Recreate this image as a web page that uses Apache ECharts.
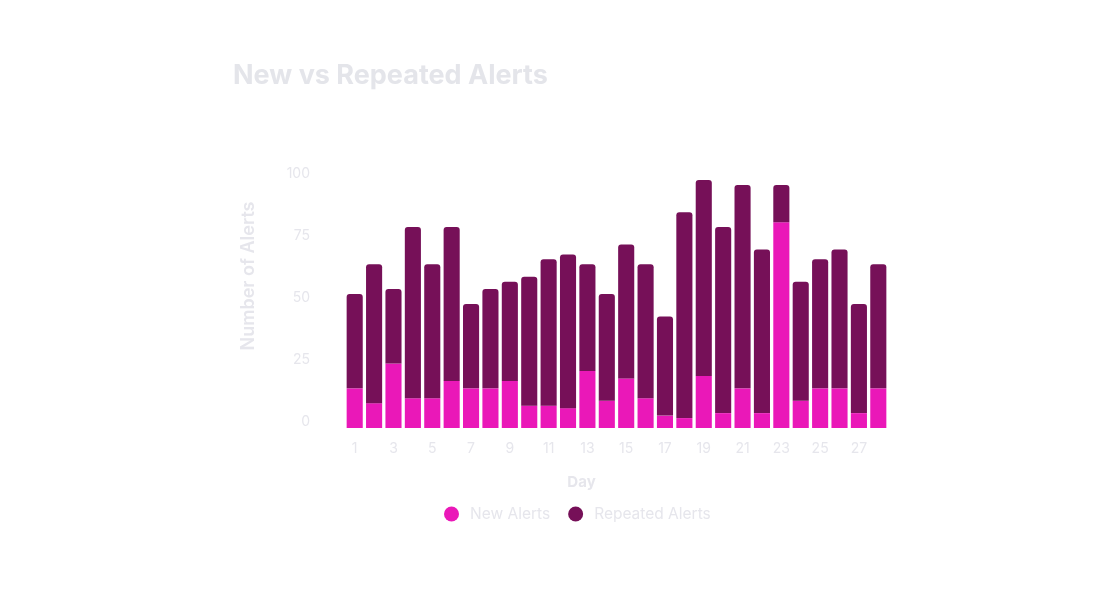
<!DOCTYPE html>
<html>
<head>
<meta charset="utf-8">
<script src="https://cdn.jsdelivr.net/npm/echarts@6/dist/echarts.min.js"></script>
<style>
  html, body { margin: 0; padding: 0; background: #fff; }
  #main { width: 1120px; height: 590px; }
</style>
</head>
<body>
<div id="main"></div>
<script>
// days 1..28
var days = [];
for (var d = 1; d <= 28; d++) days.push(String(d));

var newAlerts = [16, 10, 26, 12, 12, 19, 16, 16, 19, 9, 9, 8, 23, 11,
                 20, 12, 5, 4, 21, 6, 16, 6, 83, 11, 16, 16, 6, 16];
var repeatedAlerts = [38, 56, 30, 69, 54, 62, 34, 40, 40, 52, 59, 62, 43, 43,
                      54, 54, 40, 83, 79, 75, 82, 66, 15, 48, 52, 56, 44, 50];
var yTicks = [0, 25, 50, 75, 100];

var textColor = '#e6e6ec';
var font = 'Inter, "Noto Sans", sans-serif';

var myChart = echarts.init(document.getElementById('main'));
myChart.setOption({
  animation: false,
  textStyle: { fontFamily: font },
  title: {
    text: 'New vs Repeated Alerts',
    left: 228,
    top: 57,
    textStyle: { color: '#e4e5ea', fontSize: 27, fontWeight: 'bold', fontFamily: font }
  },
  color: ['#ea18b8', '#761058'],
  legend: {
    left: 439,
    top: 501,
    icon: 'circle',
    itemWidth: 15,
    itemHeight: 15,
    itemGap: 18,
    textStyle: { color: textColor, fontSize: 15.5, padding: [0, 0, 0, 6] },
    data: ['New Alerts', 'Repeated Alerts']
  },
  grid: {
    left: 345,
    right: 232,
    top: 180,
    height: 248
  },
  xAxis: {
    type: 'category',
    data: days,
    name: 'Day',
    nameLocation: 'middle',
    nameGap: 47,
    nameTextStyle: { color: textColor, fontSize: 15, fontWeight: 'bold', padding: [0, 70, 0, 0] },
    axisLine: { show: false },
    axisTick: { show: false },
    axisLabel: { interval: 1, color: textColor, fontSize: 14, margin: 14 }
  },
  yAxis: {
    type: 'value',
    min: yTicks[0],
    max: yTicks[yTicks.length - 1],
    interval: 25,
    name: 'Number of Alerts',
    nameLocation: 'middle',
    nameGap: 87,
    nameRotate: 90,
    nameTextStyle: { color: textColor, fontSize: 18, fontWeight: 600, padding: [0, 0, 0, 56] },
    splitLine: { show: false },
    axisLine: { show: false },
    axisTick: { show: false },
    axisLabel: { color: textColor, fontSize: 14, margin: 35, verticalAlign: 'bottom', lineHeight: 12 }
  },
  series: [
    {
      name: 'New Alerts',
      type: 'bar',
      stack: 'alerts',
      barCategoryGap: '17%',
      data: newAlerts
    },
    {
      name: 'Repeated Alerts',
      type: 'bar',
      stack: 'alerts',
      barCategoryGap: '17%',
      itemStyle: { borderRadius: [3, 3, 0, 0] },
      data: repeatedAlerts
    }
  ]
});
</script>
</body>
</html>
